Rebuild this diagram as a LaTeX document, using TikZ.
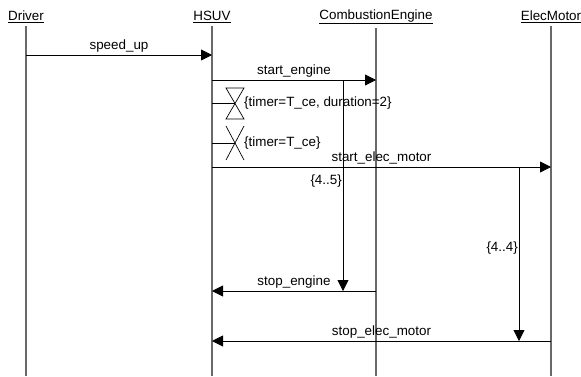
\documentclass[tikz,border=0pt]{standalone}
\usepackage{fontspec}
\setmainfont{Liberation Sans}
\usepackage{tikz}
\usetikzlibrary{arrows.meta,positioning,calc}
\definecolor{lifeGray}{RGB}{105,105,105}

\begin{document}
\begin{tikzpicture}[x=1pt,y=-1pt,font=\fontsize{13.4}{15}\selectfont,
    lifeline/.style={draw=lifeGray, line width=1.3pt},
    msg/.style={draw, line width=0.8pt, -{Triangle[length=11pt,width=11pt]}},
    msglabel/.style={above=1pt, inner sep=1pt},
    timer/.style={draw, line width=0.7pt}]
  \useasboundingbox (0,0) rectangle (581,376);

  % objects and their lifelines
  \node (driver) at (26,17) {\underline{Driver}};
  \node (hsuv)   at (212,17) {\underline{HSUV}};
  \node (engine) at (376,17) {\underline{CombustionEngine}};
  \node (motor)  at (551,17) {\underline{ElecMotor}};
  \foreach \obj in {driver,hsuv,engine,motor}
    \draw[lifeline] (\obj.south) -- (\obj.south |- 0,376);

  % points on the lifelines
  \coordinate (speedA) at (driver |- 0,55);
  \coordinate (speedB) at (hsuv |- 0,55);
  \coordinate (startEA) at (hsuv |- 0,80);
  \coordinate (startEB) at (engine |- 0,80);
  \coordinate (startMA) at (hsuv |- 0,167);
  \coordinate (startMB) at (motor |- 0,167);
  \coordinate (stopEA) at (engine |- 0,291);
  \coordinate (stopEB) at (hsuv |- 0,291);
  \coordinate (stopMA) at (motor |- 0,341);
  \coordinate (stopMB) at (hsuv |- 0,341);

  % messages
  \draw[msg] (speedA) -- node[msglabel] {speed\_up} (speedB);
  \draw[msg] (startEA) -- node[msglabel] {start\_engine} (startEB);
  \draw[msg] (startMA) -- node[msglabel] {start\_elec\_motor} (startMB);
  \draw[msg] (stopEA) -- node[msglabel] {stop\_engine} (stopEB);
  \draw[msg] (stopMA) -- node[msglabel] {stop\_elec\_motor} (stopMB);

  % timers
  \coordinate (setT) at (hsuv |- 0,103);
  \coordinate (setTx) at (235,103);
  \draw[timer] (setT) -- (setTx);
  \draw[timer] (226,88) -- (244,88) -- (226,119) -- (244,119) -- cycle;
  \node[anchor=west, inner sep=0pt] (setTlabel) at (244,103) {\{timer=T\_ce, duration=2\}};
  \coordinate (resetT) at (hsuv |- 0,143);
  \coordinate (resetTx) at (235,143);
  \draw[timer] (resetT) -- (resetTx);
  \draw[timer] (226,126) -- (244,160) (244,126) -- (226,160);
  \node[anchor=west, inner sep=0pt] (resetTlabel) at (244,143) {\{timer=T\_ce\}};

  % duration constraints
  \coordinate (durEA) at (343,80);
  \coordinate (durEB) at (durEA |- stopEA);
  \draw[msg] (durEA) -- (durEB);
  \node[anchor=east, inner sep=1pt] (durElabel) at (343,181) {\{4..5\}};
  \coordinate (durMA) at (519,167);
  \coordinate (durMB) at (durMA |- stopMA);
  \draw[msg] (durMA) -- (durMB);
  \node[anchor=east, inner sep=1pt] (durMlabel) at (519,248) {\{4..4\}};
\end{tikzpicture}
\end{document}
